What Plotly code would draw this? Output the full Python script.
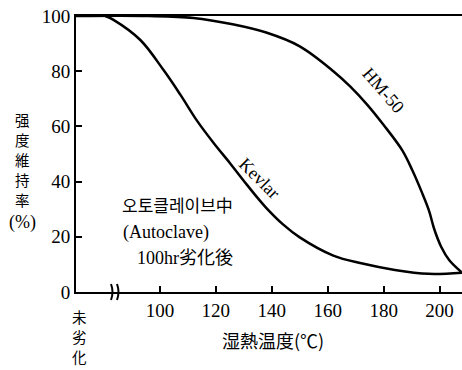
import plotly.graph_objects as go

# Data
kevlar_x = [80.5, 83.4, 93, 101.3, 107.3, 113.3, 119.2, 125.2, 131, 135, 138, 144, 150, 162, 172, 184, 196, 208]
kevlar_y = [100, 98.6, 91.3, 80.4, 71.5, 62, 54, 46.5, 39, 34, 30.5, 24.5, 19.8, 13.2, 10.4, 8, 6.6, 7]
hm50_x = [70, 96, 112, 126, 138, 150, 162, 168, 174, 180, 186.6, 190.2, 193.7, 196.2, 198, 200.5, 203.4, 207.8]
hm50_y = [100, 100, 99.3, 97, 94, 89, 80, 74.5, 68, 60.5, 51.4, 44.2, 36, 29.5, 23, 16.5, 11.6, 7.2]
x_ticks = [100, 120, 140, 160, 180, 200]
y_ticks = [0, 20, 40, 60, 80, 100]
y_title_chars = ["强", "度", "維", "持", "率", "(%)"]
unaged_chars = ["未", "劣", "化"]

SERIF = "Liberation Serif, Noto Sans CJK JP, serif"
CJK = "Noto Sans CJK JP, Noto Sans CJK KR, sans-serif"

fig = go.Figure()
for xs, ys in [(kevlar_x, kevlar_y), (hm50_x, hm50_y)]:
    fig.add_trace(go.Scatter(x=xs, y=ys, mode="lines",
                             line=dict(color="black", width=2.5, shape="spline", smoothing=1.0),
                             showlegend=False, hoverinfo="skip"))

fig.update_layout(
    width=462, height=370,
    margin=dict(l=76, r=0, t=16, b=78),
    paper_bgcolor="white", plot_bgcolor="white",
    font=dict(family=SERIF, color="black", size=19),
    xaxis=dict(range=[70, 208], tickvals=x_ticks, ticktext=[str(v) for v in x_ticks],
               ticks="inside", ticklen=6, tickwidth=1.5, tickcolor="black",
               showline=True, linecolor="black", linewidth=2, mirror=True,
               showgrid=False, zeroline=False, tickfont=dict(family=SERIF, size=19)),
    yaxis=dict(range=[0, 100], tickvals=y_ticks, ticktext=[str(v) for v in y_ticks],
               ticks="inside", ticklen=6, tickwidth=1.5, tickcolor="black",
               showline=True, linecolor="black", linewidth=2,
               showgrid=False, zeroline=False, tickfont=dict(family=SERIF, size=19)),
)

def py(p):
    return (292 - p) / 276

def px(p):
    return (p - 76) / 386

ann = []
# Y-axis title stacked vertically, one character per line
for ch, yc in zip(y_title_chars, [119, 139, 159, 179, 199, 222]):
    is_pct = ch == "(%)"
    ann.append(dict(text=ch, xref="paper", yref="paper", x=px(22), y=py(yc),
                    xanchor="center", yanchor="middle", showarrow=False, borderpad=0,
                    font=dict(family=SERIF if is_pct else CJK, size=18 if is_pct else 14.5)))
# Unaged label
for ch, yc in zip(unaged_chars, [316, 336, 356]):
    ann.append(dict(text=ch, xref="paper", yref="paper", x=px(79), y=py(yc),
                    xanchor="center", yanchor="middle", showarrow=False, borderpad=0,
                    font=dict(family=CJK, size=14.5)))
# X axis title
ann.append(dict(text="湿熱温度(℃)", xref="paper", yref="paper", x=px(273), y=py(340),
                xanchor="center", yanchor="middle", showarrow=False,
                font=dict(family=CJK, size=18)))
# Condition text
ann.append(dict(text="오토클레이브中", xref="paper", yref="paper", x=px(177), y=py(205),
                xanchor="center", yanchor="middle", showarrow=False,
                font=dict(family="Noto Sans CJK KR, sans-serif", size=17)))
ann.append(dict(text="(Autoclave)", xref="paper", yref="paper", x=px(166), y=py(233),
                xanchor="center", yanchor="middle", showarrow=False,
                font=dict(family=SERIF, size=18)))
ann.append(dict(text="100hr劣化後", xref="paper", yref="paper", x=px(185), y=py(258),
                xanchor="center", yanchor="middle", showarrow=False,
                font=dict(family=SERIF, size=18)))
# Curve labels
ann.append(dict(text="HM-50", xref="paper", yref="paper", x=px(383), y=py(90),
                xanchor="center", yanchor="middle", showarrow=False, textangle=49,
                font=dict(family=SERIF, size=18)))
ann.append(dict(text="Kevlar", xref="paper", yref="paper", x=px(259), y=py(178),
                xanchor="center", yanchor="middle", showarrow=False, textangle=45,
                font=dict(family=SERIF, size=18)))
fig.update_layout(annotations=ann)

# Axis break marks
shapes = []
for bx in (111, 117):
    x0 = px(bx)
    dx = 3 / 386
    dy = 8 / 276
    shapes.append(dict(type="path", xref="paper", yref="paper",
                       path=f"M {x0:.4f},{-dy:.4f} Q {x0 + dx:.4f},0 {x0:.4f},{dy:.4f}",
                       line=dict(color="black", width=2)))
fig.update_layout(shapes=shapes)

fig.write_html("out.html")
